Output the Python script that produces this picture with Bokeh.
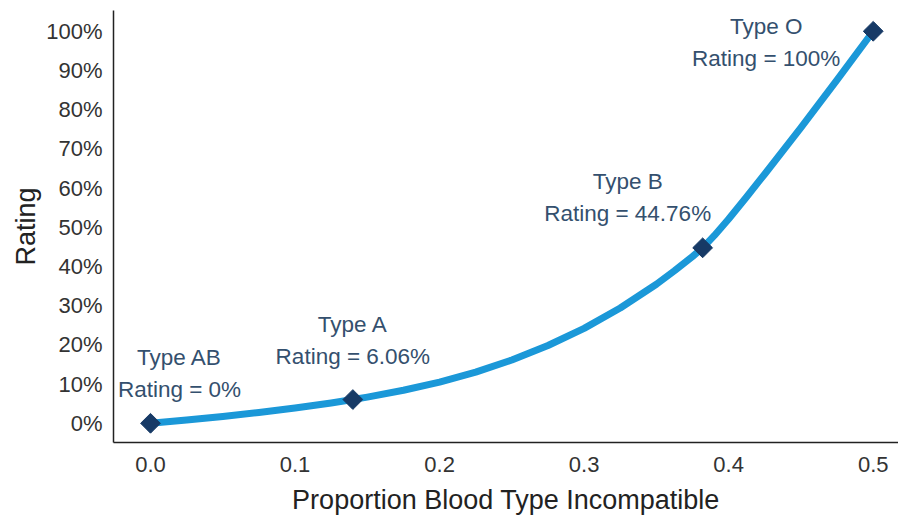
import numpy as np
from bokeh.plotting import figure
from bokeh.models import ColumnDataSource, NumeralTickFormatter, FixedTicker, Range1d
from bokeh.core.properties import value
from bokeh.embed import file_html
from bokeh.resources import INLINE

# ---- data ----
blood_types = ["AB", "A", "B", "O"]
prop_incompatible = [0.0, 0.14, 0.382, 0.5]
rating = [0.0, 6.06, 44.76, 100.0]  # percent

curve_x = [0.0, 0.025, 0.05, 0.075, 0.1, 0.125, 0.14, 0.15, 0.175, 0.2, 0.225,
           0.25, 0.275, 0.3, 0.325, 0.35, 0.3625, 0.375, 0.382, 0.39, 0.4,
           0.4125, 0.425, 0.45, 0.475, 0.5]
curve_y = [0.0, 0.84, 1.75, 2.76, 3.9, 5.19, 6.06, 6.68, 8.42, 10.51, 13.06,
           16.15, 19.84, 24.21, 29.4, 35.46, 38.9, 42.55, 44.76, 47.86, 52.1,
           57.8, 63.6, 75.4, 87.6, 100.0]  # percent

x_ticks = [0.0, 0.1, 0.2, 0.3, 0.4, 0.5]
y_ticks = [0, 10, 20, 30, 40, 50, 60, 70, 80, 90, 100]  # percent

# ---- styles ----
label_dx = [29, 0, -75, -107]
label_dy = [-34, -43, -34, 27]
line_gap = 32
FONT = "Liberation Sans"
TXT = "#34506e"

p = figure(frame_width=785, frame_height=432, output_backend="svg", toolbar_location=None,
           x_range=Range1d(-0.0256, 0.5175), y_range=Range1d(-0.049, 1.053),
           min_border_left=113, min_border_right=0, min_border_top=10,
           min_border_bottom=0)
p.outline_line_color = None
p.xgrid.visible = False
p.ygrid.visible = False
p.background_fill_color = "white"
p.border_fill_color = "white"

p.line(curve_x, [y / 100 for y in curve_y], line_color="#1b98d8",
       line_width=7, line_cap="round", line_join="round")
p.scatter(prop_incompatible, [r / 100 for r in rating], marker="square",
          angle=np.pi / 4, size=14, fill_color="#173a66", line_color="#173a66")

src = ColumnDataSource(dict(
    x=prop_incompatible,
    y=[r / 100 for r in rating],
    t1=[f"Type {b}" for b in blood_types],
    t2=[f"Rating = {r:g}%" for r in rating],
    dx=label_dx,
    dy1=[d - line_gap for d in label_dy],
    dy2=label_dy,
))
for col, dy in (("t1", "dy1"), ("t2", "dy2")):
    p.text(x="x", y="y", text=col, x_offset="dx", y_offset=dy, source=src,
           text_font=value(FONT), text_font_size="22.5px", text_color=TXT,
           text_align="center", text_baseline="middle")

for ax in (p.xaxis[0], p.yaxis[0]):
    ax.major_tick_line_color = None
    ax.minor_tick_line_color = None
    ax.axis_line_color = "#222222"
    ax.axis_line_width = 1.5
    ax.major_label_text_font = FONT
    ax.major_label_text_font_size = "22px"
    ax.major_label_text_color = "#333333"
    ax.axis_label_text_font = FONT
    ax.axis_label_text_font_size = "27px"
    ax.axis_label_text_font_style = "normal"
    ax.axis_label_text_color = "#222222"

p.xaxis.major_label_standoff = 8
p.xaxis.axis_label_standoff = 10
p.yaxis.major_label_standoff = 5
p.yaxis.axis_label_standoff = 2

p.xaxis.ticker = FixedTicker(ticks=x_ticks)
p.xaxis.formatter = NumeralTickFormatter(format="0.0")
p.yaxis.ticker = FixedTicker(ticks=[t / 100 for t in y_ticks])
p.yaxis.formatter = NumeralTickFormatter(format="0%")
p.xaxis.axis_label = "Proportion Blood Type Incompatible"
p.yaxis.axis_label = "Rating"

open("out.html", "w").write(file_html(p, INLINE))
